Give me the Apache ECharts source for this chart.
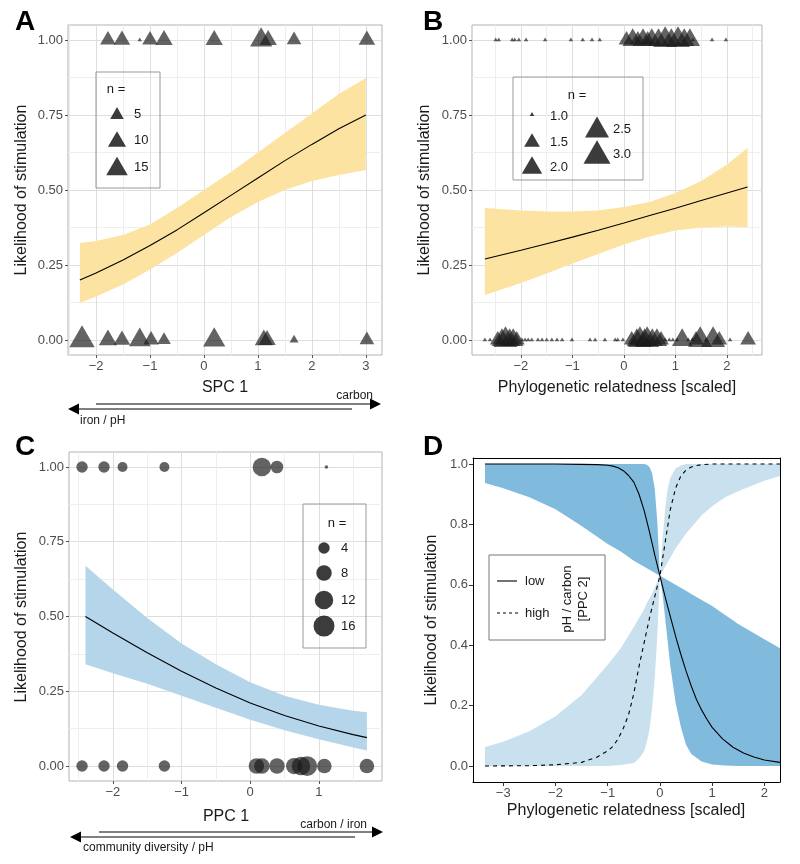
<!DOCTYPE html>
<html><head><meta charset="utf-8">
<script src="https://cdn.jsdelivr.net/npm/echarts@6/dist/echarts.min.js"></script>
<style>html,body{margin:0;padding:0;background:#fff}#c{width:800px;height:864px}</style>
</head><body><div id="c"></div>
<script>
// ---------- shared ticks ----------
const yTicks = [0, 0.25, 0.5, 0.75, 1];
const yMinorTicks = [0.125, 0.375, 0.625, 0.875];

// ---------- Panel A ----------
const aTicksX = [-2, -1, 0, 1, 2, 3];
const aMinorX = [-2.5, -1.5, -0.5, 0.5, 1.5, 2.5];
const aLineX = [-2.3, -2, -1.5, -1, -0.5, 0, 0.5, 1, 1.5, 2, 2.5, 3];
const aLineY = [0.200, 0.223, 0.267, 0.315, 0.367, 0.424, 0.482, 0.540, 0.598, 0.652, 0.704, 0.750];
const aBandLo = [0.123, 0.145, 0.185, 0.235, 0.29, 0.35, 0.41, 0.46, 0.50, 0.53, 0.55, 0.567];
const aBandHi = [0.323, 0.33, 0.35, 0.385, 0.44, 0.50, 0.56, 0.625, 0.69, 0.755, 0.82, 0.873];
const aTopX = [-1.78, -1.52, -1.19, -1.0, -0.74, 0.19, 1.06, 1.19, 1.67, 3.02];
const aTopN = [7, 8, 1, 7, 9, 9, 16, 9, 6, 8];
const aBotX = [-2.26, -1.78, -1.52, -1.19, -0.98, -0.74, 0.19, 1.11, 1.17, 1.67, 3.02];
const aBotN = [22, 10, 8, 15, 7, 5, 16, 10, 9, 2, 6];
const aLegendN = [5, 10, 15];

// ---------- Panel B ----------
const bTicksX = [-2, -1, 0, 1, 2];
const bMinorX = [-2.5, -1.5, -0.5, 0.5, 1.5, 2.5];
const bLineX = [-2.7, -2, -1.5, -1, -0.5, 0, 0.5, 1, 1.5, 2, 2.4];
const bLineY = [0.270, 0.299, 0.321, 0.343, 0.366, 0.390, 0.415, 0.439, 0.465, 0.490, 0.510];
const bBandLo = [0.15, 0.19, 0.222, 0.255, 0.287, 0.318, 0.345, 0.365, 0.375, 0.378, 0.377];
const bBandHi = [0.44, 0.432, 0.428, 0.428, 0.432, 0.443, 0.46, 0.49, 0.53, 0.585, 0.64];
const bTopX = [-2.49,-2.43,-2.17,-2.12,-2.04,-1.90,-1.53,-1.03,-0.80,-0.62,-0.47,0.05,0.17,0.27,0.37,0.46,0.54,0.67,0.80,0.92,1.05,1.17,1.28,1.34,1.71,1.98];
const bTopN = [1,1,1,1,1,1,1,1,1,1,1,1.5,2,1.5,2,1.5,2,2,2.5,2,2.5,2,2,1,1,1];
const bBotX = [-2.70,-2.60,-2.45,-2.37,-2.30,-2.22,-2.15,-2.08,-1.98,-1.92,-1.86,-1.79,-1.67,-1.59,-1.50,-1.40,-1.30,-1.20,-1.01,-0.66,-0.56,-0.37,-0.17,-0.12,-0.02,0.15,0.25,0.31,0.40,0.45,0.55,0.64,0.72,0.80,0.88,0.95,1.03,1.13,1.25,1.33,1.40,1.48,1.60,1.73,1.85,2.06,2.41];
const bBotN = [1,1,1.5,2,2.5,2,2,1.5,1,1,1,1,1,1,1,1,1,1,1,1,1,1,1,1,1,1.5,2,2.5,2,2.5,2,2,1.5,1,1,1,1,2,1,1,1.5,2.5,1,2.5,1.5,1,1.5];
const bLegendN = [1.0, 1.5, 2.0, 2.5, 3.0];

// ---------- Panel C ----------
const cTicksX = [-2, -1, 0, 1];
const cMinorX = [-2.5, -1.5, -0.5, 0.5, 1.5];
const cLineX = [-2.4, -2, -1.5, -1, -0.5, 0, 0.5, 1, 1.5, 1.7];
const cLineY = [0.500, 0.445, 0.379, 0.317, 0.261, 0.211, 0.169, 0.134, 0.105, 0.095];
const cBandLo = [0.34, 0.31, 0.275, 0.235, 0.195, 0.155, 0.12, 0.09, 0.062, 0.052];
const cBandHi = [0.67, 0.59, 0.495, 0.41, 0.34, 0.28, 0.235, 0.205, 0.185, 0.18];
const cTopX = [-2.45, -2.13, -1.86, -1.25, 0.17, 0.39, 1.11];
const cTopN = [4, 4, 3, 3, 12, 5, 1];
const cBotX = [-2.45, -2.13, -1.86, -1.25, 0.09, 0.17, 0.39, 0.64, 0.74, 0.83, 1.08, 1.70];
const cBotN = [4, 4, 4, 4, 8, 8, 8, 9, 12, 14, 7, 7];
const cLegendN = [4, 8, 12, 16];

// ---------- Panel D ----------
const dTicksX = [-3, -2, -1, 0, 1, 2];
const dTicksY = [0, 0.2, 0.4, 0.6, 0.8, 1.0];
const dLowX = [-3.35,-2.5,-2,-1.5,-1.2,-1.0,-0.9,-0.8,-0.7,-0.6,-0.5,-0.4,-0.3,-0.2,-0.1,0,0.1,0.2,0.3,0.4,0.5,0.6,0.7,0.8,0.9,1.0,1.2,1.4,1.6,1.8,2.0,2.3];
const dLowY = [1.0,1.0,1.0,0.999,0.998,0.996,0.993,0.988,0.978,0.962,0.94,0.90,0.845,0.775,0.70,0.63,0.56,0.495,0.43,0.37,0.315,0.265,0.22,0.185,0.155,0.128,0.09,0.062,0.043,0.03,0.02,0.012];
const dHighX = [-3.35,-2.5,-2,-1.5,-1.2,-1.0,-0.9,-0.8,-0.7,-0.6,-0.5,-0.4,-0.3,-0.2,-0.1,0,0.1,0.2,0.3,0.4,0.5,0.6,0.7,0.8,1.0,1.5,2.3];
const dHighY = [0.0,0.001,0.004,0.012,0.03,0.05,0.065,0.09,0.125,0.17,0.24,0.33,0.41,0.49,0.56,0.63,0.74,0.85,0.92,0.96,0.98,0.99,0.995,0.998,1.0,1.0,1.0];
const dBandX = [-3.35,-3,-2.5,-2,-1.5,-1,-0.75,-0.5,-0.4,-0.3,-0.25,-0.2,-0.15,-0.1,-0.05,0,0.05,0.1,0.15,0.2,0.3,0.4,0.5,0.6,0.8,1.0,1.25,1.5,2.0,2.3];
const dLowHi = [1,1,1,1,1,1,1,1,1,1,0.998,0.99,0.97,0.92,0.81,0.63,0.625,0.62,0.615,0.61,0.60,0.59,0.58,0.57,0.55,0.53,0.50,0.47,0.42,0.39];
const dLowLo = [0.937,0.92,0.89,0.85,0.795,0.735,0.71,0.68,0.67,0.66,0.655,0.65,0.645,0.64,0.635,0.63,0.57,0.49,0.41,0.33,0.21,0.13,0.07,0.04,0.015,0.005,0.002,0,0,0];
const dHighHi = [0.063,0.08,0.115,0.165,0.235,0.335,0.39,0.46,0.49,0.52,0.54,0.555,0.57,0.59,0.61,0.63,0.75,0.85,0.92,0.955,0.985,0.995,1,1,1,1,1,1,1,1];
const dHighLo = [0,0,0,0,0,0,0.003,0.01,0.025,0.05,0.08,0.12,0.19,0.29,0.43,0.63,0.645,0.66,0.675,0.69,0.72,0.745,0.77,0.79,0.83,0.86,0.89,0.91,0.945,0.96];

// ---------- helpers ----------
const FF = '"Liberation Sans", Arial, Helvetica, sans-serif';
const TICKTXT = '#4d4d4d';
const sizeA = n => 4.4 * (1 + 5 * Math.sqrt((n - 1) / 23));
const sizeB = n => 4.5 * (1 + 5 * Math.sqrt((n - 1) / 2));
const sizeC = n => 3.6 * (1 + 5 * Math.sqrt((n - 1) / 16));
const fmt = (v, d) => (d ? v.toFixed(d) : String(v)).replace('-', '\u2212');

const xAxes = [], yAxes = [];
function lightAxes(g, xr, xMaj, xMin) {
  const xi = xAxes.length, yi = yAxes.length;
  xAxes.push({type:'value', gridIndex:g, min:xr[0], max:xr[1], position:'bottom',
    axisLine:{show:false, onZero:false},
    axisTick:{show:true, customValues:xMaj, length:3, lineStyle:{color:'#555', width:1}},
    axisLabel:{customValues:xMaj, formatter:v=>fmt(v), color:TICKTXT, fontSize:13, fontFamily:FF, margin:5},
    splitLine:{show:true, lineStyle:{color:'#dedede', width:1}}});
  xAxes.push({type:'value', gridIndex:g, min:xr[0], max:xr[1], position:'bottom',
    axisLine:{show:false, onZero:false}, axisTick:{show:false, customValues:xMin},
    axisLabel:{show:false, customValues:xMin},
    splitLine:{show:true, lineStyle:{color:'#eeeeee', width:1}}});
  yAxes.push({type:'value', gridIndex:g, min:-0.05, max:1.05, position:'left',
    axisLine:{show:false, onZero:false},
    axisTick:{show:true, customValues:yTicks, length:3, lineStyle:{color:'#555', width:1}},
    axisLabel:{customValues:yTicks, formatter:v=>v.toFixed(2), color:TICKTXT, fontSize:13, fontFamily:FF, margin:5},
    splitLine:{show:true, lineStyle:{color:'#dedede', width:1}}});
  yAxes.push({type:'value', gridIndex:g, min:-0.05, max:1.05, position:'left',
    axisLine:{show:false, onZero:false}, axisTick:{show:false, customValues:yMinorTicks},
    axisLabel:{show:false, customValues:yMinorTicks},
    splitLine:{show:true, lineStyle:{color:'#eeeeee', width:1}}});
  return {xi, yi};
}

const pA = lightAxes(0, [-2.52, 3.30], aTicksX, aMinorX);
const pB = lightAxes(1, [-2.95, 2.68], bTicksX, bMinorX);
const pC = lightAxes(2, [-2.64, 1.92], cTicksX, cMinorX);
const pD = {xi: xAxes.length, yi: yAxes.length};
xAxes.push({type:'value', gridIndex:3, min:-3.58, max:2.30, position:'bottom',
  axisLine:{show:true, onZero:false, lineStyle:{color:'#000', width:1}},
  axisTick:{show:true, customValues:dTicksX, length:4, lineStyle:{color:'#333'}},
  axisLabel:{customValues:dTicksX, formatter:v=>fmt(v), color:TICKTXT, fontSize:13, fontFamily:FF, margin:5},
  splitLine:{show:false}});
xAxes.push({type:'value', gridIndex:3, min:-3.58, max:2.30, position:'top',
  axisLine:{show:true, onZero:false, lineStyle:{color:'#000', width:1}},
  axisTick:{show:false}, axisLabel:{show:false}, splitLine:{show:false}});
yAxes.push({type:'value', gridIndex:3, min:-0.053, max:1.02, position:'left',
  axisLine:{show:true, onZero:false, lineStyle:{color:'#000', width:1}},
  axisTick:{show:true, customValues:dTicksY, length:4, lineStyle:{color:'#333'}},
  axisLabel:{customValues:dTicksY, formatter:v=>v.toFixed(1), color:TICKTXT, fontSize:13, fontFamily:FF, margin:5},
  splitLine:{show:false}});
yAxes.push({type:'value', gridIndex:3, min:-0.053, max:1.02, position:'right',
  axisLine:{show:true, onZero:false, lineStyle:{color:'#000', width:1}},
  axisTick:{show:false}, axisLabel:{show:false}, splitLine:{show:false}});

function band(p, xs, lo, hi, color) {
  return {type:'custom', xAxisIndex:p.xi, yAxisIndex:p.yi, silent:true, z:1,
    data:[[xs[0], lo[0]]],
    renderItem:(params, api) => {
      const pts = [];
      for (let i = 0; i < xs.length; i++) pts.push(api.coord([xs[i], hi[i]]));
      for (let i = xs.length - 1; i >= 0; i--) pts.push(api.coord([xs[i], lo[i]]));
      return {type:'polygon', shape:{points:pts}, style:{fill:color}};
    }};
}
function line(p, xs, ys, dashed) {
  return {type:'line', xAxisIndex:p.xi, yAxisIndex:p.yi, z:3, showSymbol:false, silent:true,
    smooth:false,
    data: xs.map((x, i) => [x, ys[i]]),
    lineStyle:{color:'#000', width:1.1, type: dashed ? [4, 4] : 'solid'}};
}
function tri(p, xs, ns, row, sizeFn) {
  return {type:'scatter', xAxisIndex:p.xi, yAxisIndex:p.yi, z:4, silent:true, symbol:'triangle',
    itemStyle:{color:'rgba(26,26,26,0.85)'},
    data: xs.map((x, i) => { const w = sizeFn(ns[i]); const h = w * 0.866;
      return {value:[x, row], symbolSize:[w, h], symbolOffset:[0, -h / 6]}; })};
}
function dots(p, xs, ns, row, sizeFn) {
  return {type:'scatter', xAxisIndex:p.xi, yAxisIndex:p.yi, z:4, silent:true, symbol:'circle',
    itemStyle:{color:'rgba(26,26,26,0.85)'},
    data: xs.map((x, i) => ({value:[x, row], symbolSize:sizeFn(ns[i])}))};
}

const series = [
  band(pA, aLineX, aBandLo, aBandHi, '#fde3a1'),
  line(pA, aLineX, aLineY, false),
  tri(pA, aTopX, aTopN, 1, sizeA),
  tri(pA, aBotX, aBotN, 0, sizeA),
  band(pB, bLineX, bBandLo, bBandHi, '#fde3a1'),
  line(pB, bLineX, bLineY, false),
  tri(pB, bTopX, bTopN, 1, sizeB),
  tri(pB, bBotX, bBotN, 0, sizeB),
  band(pC, cLineX, cBandLo, cBandHi, '#b5d6ea'),
  line(pC, cLineX, cLineY, false),
  dots(pC, cTopX, cTopN, 1, sizeC),
  dots(pC, cBotX, cBotN, 0, sizeC),
  band(pD, dBandX, dHighLo, dHighHi, '#c9e1ee'),
  band(pD, dBandX, dLowLo, dLowHi, '#80bbdd'),
  line(pD, dLowX, dLowY, false),
  line(pD, dHighX, dHighY, true)
];

// ---------- graphic annotations ----------
const G = [];
function txt(x, y, s, o) {
  o = o || {};
  const al = o.align || 'center';
  G.push({type:'text', x:x, y:y, rotation:o.rot || 0, z:100, silent:true,
    style:{text:s, x:0, y:0, font:(o.bold ? 'bold ' : '') + (o.size || 13) + 'px ' + FF,
      fill:o.color || '#1a1a1a', align:al, textAlign:al, verticalAlign:'middle', textVerticalAlign:'middle'}});
}
function seg(x1, y1, x2, y2, o) {
  o = o || {};
  G.push({type:'line', z:100, silent:true, shape:{x1, y1, x2, y2},
    style:{stroke:o.color || '#000', lineWidth:o.w || 1, lineDash:o.dash || null}});
}
function rectBox(x, y, w, h, c) {
  G.push({type:'rect', z:99, silent:true, shape:{x, y, width:w, height:h}, style:{fill:'none', stroke:c, lineWidth:1}});
}
function triGlyph(cx, cy, w) {
  const h = w * 0.866;
  G.push({type:'polygon', z:100, silent:true,
    shape:{points:[[cx, cy - h / 2], [cx + w / 2, cy + h / 2], [cx - w / 2, cy + h / 2]]},
    style:{fill:'rgba(26,26,26,0.85)'}});
}
function dotGlyph(cx, cy, d) {
  G.push({type:'circle', z:100, silent:true, shape:{cx, cy, r:d / 2}, style:{fill:'rgba(26,26,26,0.85)'}});
}
function arrowR(x1, x2, y) {
  seg(x1, y, x2 - 10, y);
  G.push({type:'polygon', z:100, silent:true, shape:{points:[[x2 - 11, y - 5.5], [x2, y], [x2 - 11, y + 5.5]]}, style:{fill:'#000'}});
}
function arrowL(x1, x2, y) {
  seg(x1 + 10, y, x2, y);
  G.push({type:'polygon', z:100, silent:true, shape:{points:[[x1 + 11, y - 5.5], [x1, y], [x1 + 11, y + 5.5]]}, style:{fill:'#000'}});
}

const R90 = Math.PI / 2;
// panel letters
txt(25, 22, 'A', {bold:true, size:28, color:'#000'});
txt(433, 22, 'B', {bold:true, size:28, color:'#000'});
txt(25, 447, 'C', {bold:true, size:28, color:'#000'});
txt(433, 447, 'D', {bold:true, size:28, color:'#000'});
// axis titles
txt(22, 190, 'Likelihood of stimulation', {size:16, rot:R90});
txt(225, 388, 'SPC 1', {size:16});
txt(425, 190, 'Likelihood of stimulation', {size:16, rot:R90});
txt(617, 388, 'Phylogenetic relatedness [scaled]', {size:16});
txt(22, 617, 'Likelihood of stimulation', {size:16, rot:R90});
txt(226, 817, 'PPC 1', {size:16});
txt(432, 620, 'Likelihood of stimulation', {size:16, rot:R90});
txt(626, 811, 'Phylogenetic relatedness [scaled]', {size:16});
// arrows A
txt(373, 396, 'carbon', {size:12, align:'right'});
arrowR(96, 381, 404);
arrowL(68, 352, 409);
txt(80, 421, 'iron / pH', {size:12, align:'left'});
// arrows C
txt(367, 825, 'carbon / iron', {size:12, align:'right'});
arrowR(99, 383, 832);
arrowL(70, 355, 837);
txt(83, 848, 'community diversity / pH', {size:12, align:'left'});

// legend A
rectBox(96, 72, 64, 116, '#999');
txt(116, 89, 'n =', {size:13});
[113, 139, 166].forEach((y, i) => { triGlyph(117, y, sizeA(aLegendN[i])); txt(134, y + 1, String(aLegendN[i]), {size:13, align:'left'}); });
// legend B
rectBox(513, 77, 130, 103, '#999');
txt(577, 95, 'n =', {size:13});
const bLegPos = [[532, 114], [532, 140], [532, 165], [597, 127], [597, 152]];
bLegPos.forEach((p, i) => { triGlyph(p[0], p[1], sizeB(bLegendN[i])); txt(p[0] + (i < 3 ? 18 : 16), p[1] + 2, bLegendN[i].toFixed(1), {size:13, align:'left'}); });
// legend C
rectBox(303, 504, 63, 144, '#999');
txt(337, 523, 'n =', {size:13});
[548, 573, 600, 626].forEach((y, i) => { dotGlyph(324, y, sizeC(cLegendN[i])); txt(341, y, String(cLegendN[i]), {size:13, align:'left'}); });
// legend D
rectBox(489, 555, 116, 85, '#777');
seg(497, 581, 517, 581, {w:1.1});
txt(525, 581, 'low', {size:13, align:'left'});
seg(497, 613, 520, 613, {w:1.1, dash:[3, 3]});
txt(525, 613, 'high', {size:13, align:'left'});
txt(567, 599, 'pH / carbon', {size:13, rot:R90});
txt(583, 599, '[PPC 2]', {size:13, rot:R90});

const chart = echarts.init(document.getElementById('c'), null, {renderer:'canvas', width:800, height:864});
chart.setOption({
  animation:false,
  backgroundColor:'#ffffff',
  grid:[
    {left:68, top:25, width:314, height:330, show:true, borderColor:'#b3b3b3', borderWidth:1, backgroundColor:'transparent'},
    {left:472, top:25, width:290, height:330, show:true, borderColor:'#b3b3b3', borderWidth:1, backgroundColor:'transparent'},
    {left:69, top:452, width:313, height:329, show:true, borderColor:'#b3b3b3', borderWidth:1, backgroundColor:'transparent'},
    {left:473, top:458, width:307, height:324, show:false}
  ],
  xAxis:xAxes, yAxis:yAxes, series:series,
  graphic:{elements:G}
});
</script></body></html>
